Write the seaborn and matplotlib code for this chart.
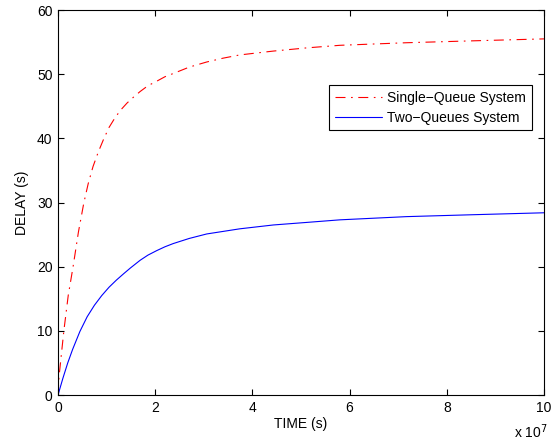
"""
Delay vs. time for single-queue and two-queue systems (MATLAB-style line plot).
"""

import matplotlib
matplotlib.use("Agg")
import matplotlib.pyplot as plt
import pandas as pd
import seaborn as sns


# ---------------------------------------------------------------------------
# Data (time in units of 10^7 s, delay in s)
# ---------------------------------------------------------------------------

single_time = [0.0, 0.02, 0.12, 0.21, 0.31, 0.42, 0.53, 0.62, 0.72, 0.83, 0.94,
               1.05, 1.18, 1.30, 1.42, 1.55, 1.69, 1.85, 2.03, 2.20, 2.37, 2.70,
               3.06, 3.40, 3.74, 4.43, 5.12, 5.80, 7.17, 8.55, 10.0]
single_delay = [0.0, 2.8, 10.0, 15.5, 20.0, 25.4, 29.9, 32.9, 35.6, 37.9, 39.9,
                41.7, 43.3, 44.5, 45.5, 46.4, 47.3, 48.2, 48.9, 49.6, 50.1, 51.1,
                51.9, 52.5, 53.0, 53.6, 54.1, 54.5, 54.9, 55.2, 55.5]

two_time = [0.0, 0.10, 0.20, 0.30, 0.45, 0.60, 0.75, 0.90, 1.05, 1.20, 1.35,
            1.49, 1.69, 1.85, 2.03, 2.20, 2.37, 2.70, 3.06, 3.40, 3.74, 4.43,
            5.12, 5.80, 7.17, 8.55, 10.0]
two_delay = [0.0, 2.6, 5.0, 7.1, 9.9, 12.2, 14.0, 15.5, 16.8, 17.9, 18.9,
             19.8, 21.0, 21.8, 22.5, 23.1, 23.6, 24.4, 25.1, 25.5, 25.9, 26.5,
             26.9, 27.3, 27.8, 28.1, 28.4]

series_labels = ["Single\u2212Queue System", "Two\u2212Queues System"]


# ---------------------------------------------------------------------------
# Style
# ---------------------------------------------------------------------------

sns.set_style("ticks")
plt.rcParams.update({
    "font.family": ["Liberation Sans", "DejaVu Sans"],
    "font.size": 10,
    "xtick.direction": "in",
    "ytick.direction": "in",
    "xtick.top": True,
    "ytick.right": True,
    "xtick.major.size": 4,
    "ytick.major.size": 4,
    "xtick.major.width": 0.8,
    "ytick.major.width": 0.8,
    "xtick.color": "black",
    "ytick.color": "black",
    "axes.edgecolor": "black",
    "axes.linewidth": 0.8,
    "text.color": "black",
    "axes.labelcolor": "black",
})

df_single = pd.DataFrame({"time": single_time, "delay": single_delay})
df_two = pd.DataFrame({"time": two_time, "delay": two_delay})

fig = plt.figure(figsize=(5.6, 4.47), dpi=100)
ax = fig.add_axes([0.1036, 0.1163, 0.8678, 0.8613])

sns.lineplot(data=df_single, x="time", y="delay", ax=ax, color="#ff0000",
             linewidth=0.8, linestyle=(0, (9, 5, 1.5, 5)),
             label=series_labels[0], estimator=None, sort=False)
sns.lineplot(data=df_two, x="time", y="delay", ax=ax, color="#0000ff",
             linewidth=0.8, label=series_labels[1], estimator=None, sort=False)

ax.set_xlim(0, 10)
ax.set_ylim(0, 60)
ax.set_xticks(range(0, 11, 2))
ax.set_yticks(range(0, 61, 10))
ax.tick_params(axis="both", labelsize=10, pad=4)
for side in ["top", "right", "left", "bottom"]:
    ax.spines[side].set_visible(True)

ax.set_xlabel("TIME (s)", fontsize=10, labelpad=2)
ax.set_ylabel("DELAY (s)", fontsize=10, labelpad=6)
ax.text(1.008, -0.095, "x 10$^{7}$", transform=ax.transAxes,
        ha="right", va="center", fontsize=10)

leg = ax.legend(loc="upper right", bbox_to_anchor=(0.975, 0.805),
                borderaxespad=0, fancybox=False, framealpha=1,
                edgecolor="black", handlelength=3.4, handletextpad=0.4,
                labelspacing=0.45, borderpad=0.4, fontsize=10)
leg.get_frame().set_linewidth(0.8)

fig.savefig("out.png", dpi=100)
